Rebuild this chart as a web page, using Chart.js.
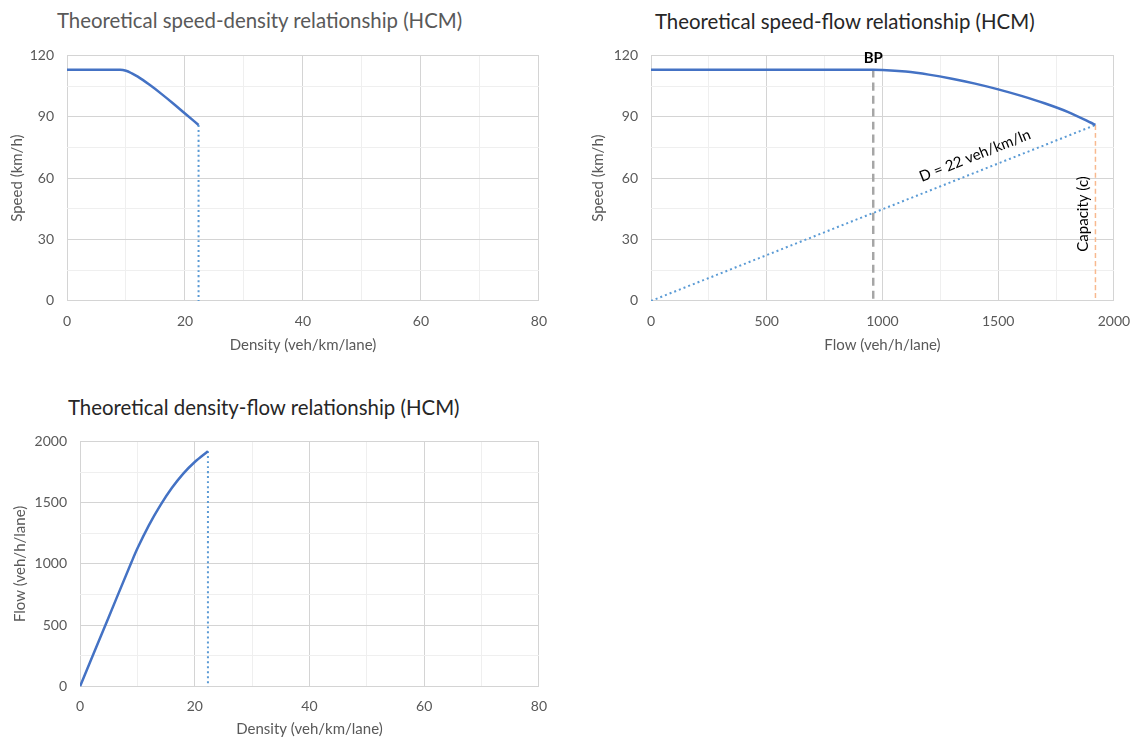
<!DOCTYPE html>
<html>
<head>
  <title>HCM speed-flow-density</title>
  <meta charset="UTF-8">
  <script src="https://cdn.jsdelivr.net/npm/chart.js"></script>
  <style>
    body {
      margin: 0;
      width: 1134px;
      height: 740px;
      background: #fff;
      position: relative;
      overflow: hidden;
      font-family: Lato, "Open Sans", sans-serif;
    }
    .title {
      position: absolute;
      font-size: 20.4px;
      white-space: nowrap;
      line-height: 24px;
    }
    canvas { position: absolute; }
  </style>
</head>
<body>
  <div class="title" style="left:57px; top:8px; color:#595959;">Theoretical speed-density relationship (HCM)</div>
  <div class="title" style="left:655px; top:9px; color:#262626;">Theoretical speed-flow relationship (HCM)</div>
  <div class="title" style="left:68px; top:395px; color:#262626;">Theoretical density-flow relationship (HCM)</div>

  <canvas id="sd" width="560" height="320" style="left:0; top:40px;"></canvas>
  <canvas id="sf" width="554" height="320" style="left:580px; top:40px;"></canvas>
  <canvas id="df" width="560" height="315" style="left:0; top:425px;"></canvas>

  <script>
    // values
    const sdDensity = [0, 9, 10, 11, 12, 14, 16, 18, 20, 22.3];
    const sdSpeed = [113, 113, 112.5, 111.2, 109.6, 105.6, 101.2, 96.5, 91.6, 86];

    const sfFlow = [0, 960, 1000, 1100, 1200, 1300, 1400, 1500, 1600, 1700, 1800, 1920];
    const sfSpeed = [113, 113, 112.9, 112.1, 110.6, 108.6, 106.2, 103.4, 100.2, 96.6, 92.4, 86];

    const dfDensity = [0, 5, 9, 10, 12, 14, 16, 18, 20, 22.3];
    const dfFlow = [0, 565, 1017, 1125, 1315, 1478, 1619, 1737, 1832, 1920];

    // capacity point and breakpoint
    const capDensity = 22.3;
    const capSpeed = 86;
    const capFlow = 1920;
    const bpFlow = 960;
    const ffs = 113;

    const densityTicks = [0, 20, 40, 60, 80];
    const speedTicks = [0, 30, 60, 90, 120];
    const flowTicks = [0, 500, 1000, 1500, 2000];

    const FONT = 'Lato, "Open Sans", sans-serif';
    const MAJOR = '#d4d4d4';
    const MINOR = '#efefef';
    const LINE = '#4472c4';
    const DOT = '#5b9bd5';

    const pts = (xs, ys) => xs.map((v, i) => ({ x: v, y: ys[i] }));

    function axis(opts) {
      const labels = opts.labels;
      return {
        type: 'linear',
        min: labels[0],
        max: labels[labels.length - 1],
        border: { display: false },
        grid: {
          drawTicks: false,
          lineWidth: 1,
          color: c => labels.includes(c.tick.value) ? MAJOR : MINOR
        },
        ticks: {
          stepSize: (labels[1] - labels[0]) / 2,
          autoSkip: false,
          maxRotation: 0,
          padding: opts.tickPad,
          color: '#595959',
          font: { family: FONT, size: 14 },
          callback: v => labels.includes(v) ? v : ''
        },
        title: {
          display: true,
          text: opts.title,
          color: '#595959',
          font: { family: FONT, size: 15 },
          padding: { top: opts.titlePad, bottom: opts.titlePad }
        },
        afterFit: s => {
          if (opts.width) s.width = opts.width;
          if (opts.height) s.height = opts.height;
        }
      };
    }

    function line(data, color, width, dash) {
      return {
        data: data,
        showLine: true,
        borderColor: color,
        borderWidth: width,
        borderDash: dash || [],
        pointRadius: 0,
        fill: false,
        cubicInterpolationMode: 'monotone'
      };
    }

    function baseOptions(xs, ys) {
      return {
        responsive: false,
        maintainAspectRatio: false,
        animation: false,
        layout: { padding: 0 },
        plugins: { legend: { display: false }, tooltip: { enabled: false } },
        scales: { x: xs, y: ys }
      };
    }

    // move/resize the canvas so the plot area sits on the page box [l, t, r, b]
    function place(chart, box) {
      const cv = chart.canvas;
      for (let i = 0; i < 2; i++) {
        const a = chart.chartArea;
        const w = cv.width + (box[2] - box[0]) - (a.right - a.left);
        const h = cv.height + (box[3] - box[1]) - (a.bottom - a.top);
        cv.style.left = (box[0] - a.left) + 'px';
        cv.style.top = (box[1] - a.top) + 'px';
        chart.resize(w, h);
      }
    }

    // speed-density
    const sd = new Chart(document.getElementById('sd'), {
      type: 'scatter',
      data: {
        datasets: [
          line(pts(sdDensity, sdSpeed), LINE, 2.5),
          line([{ x: capDensity, y: capSpeed }, { x: capDensity, y: 0 }], DOT, 2, [2, 3])
        ]
      },
      options: baseOptions(
        axis({ labels: densityTicks, title: 'Density (veh/km/lane)', tickPad: 12, titlePad: 6, height: 59 }),
        axis({ labels: speedTicks, title: 'Speed (km/h)', tickPad: 13, titlePad: 8, width: 67 }))
    });
    place(sd, [67, 55.5, 539, 301]);

    // annotations for the speed-flow chart
    const sfNotes = {
      id: 'sfNotes',
      afterDatasetsDraw(chart) {
        const { ctx, scales: { x, y } } = chart;
        ctx.save();
        ctx.fillStyle = '#000';
        ctx.textAlign = 'center';
        ctx.textBaseline = 'middle';
        ctx.font = 'bold 15px ' + FONT;
        ctx.fillText('BP', x.getPixelForValue(bpFlow), y.getPixelForValue(118.5));

        const ang = Math.atan2(y.getPixelForValue(capSpeed) - y.getPixelForValue(0),
          x.getPixelForValue(capFlow) - x.getPixelForValue(0));
        ctx.save();
        ctx.translate(x.getPixelForValue(1400), y.getPixelForValue(71));
        ctx.rotate(ang);
        ctx.font = '15px ' + FONT;
        ctx.fillText('D = 22 veh/km/ln', 0, 0);
        ctx.restore();

        ctx.translate(x.getPixelForValue(1868), y.getPixelForValue(42.5));
        ctx.rotate(-Math.PI / 2);
        ctx.font = '15px ' + FONT;
        ctx.fillText('Capacity (c)', 0, 0);
        ctx.restore();
      }
    };

    // speed-flow
    const sf = new Chart(document.getElementById('sf'), {
      type: 'scatter',
      data: {
        datasets: [
          line(pts(sfFlow, sfSpeed), LINE, 2.5),
          line([{ x: 0, y: 0 }, { x: capFlow, y: capSpeed }], DOT, 2, [2, 3]),
          line([{ x: bpFlow, y: ffs }, { x: bpFlow, y: 0 }], '#a6a6a6', 2.5, [8, 5]),
          line([{ x: capFlow, y: capSpeed }, { x: capFlow, y: 0 }], '#f8b98f', 1.5, [5, 3])
        ]
      },
      options: baseOptions(
        axis({ labels: flowTicks, title: 'Flow (veh/h/lane)', tickPad: 12, titlePad: 6, height: 59 }),
        axis({ labels: speedTicks, title: 'Speed (km/h)', tickPad: 13, titlePad: 9, width: 71 })),
      plugins: [sfNotes]
    });
    place(sf, [651, 55.5, 1114, 301]);

    // density-flow
    const df = new Chart(document.getElementById('df'), {
      type: 'scatter',
      data: {
        datasets: [
          line(pts(dfDensity, dfFlow), LINE, 2.5),
          line([{ x: capDensity, y: capFlow }, { x: capDensity, y: 0 }], DOT, 2, [2, 3])
        ]
      },
      options: baseOptions(
        axis({ labels: densityTicks, title: 'Density (veh/km/lane)', tickPad: 12, titlePad: 2, height: 54 }),
        axis({ labels: flowTicks, title: 'Flow (veh/h/lane)', tickPad: 13, titlePad: 11, width: 80 }))
    });
    place(df, [80, 441, 539, 686]);
  </script>
</body>
</html>
